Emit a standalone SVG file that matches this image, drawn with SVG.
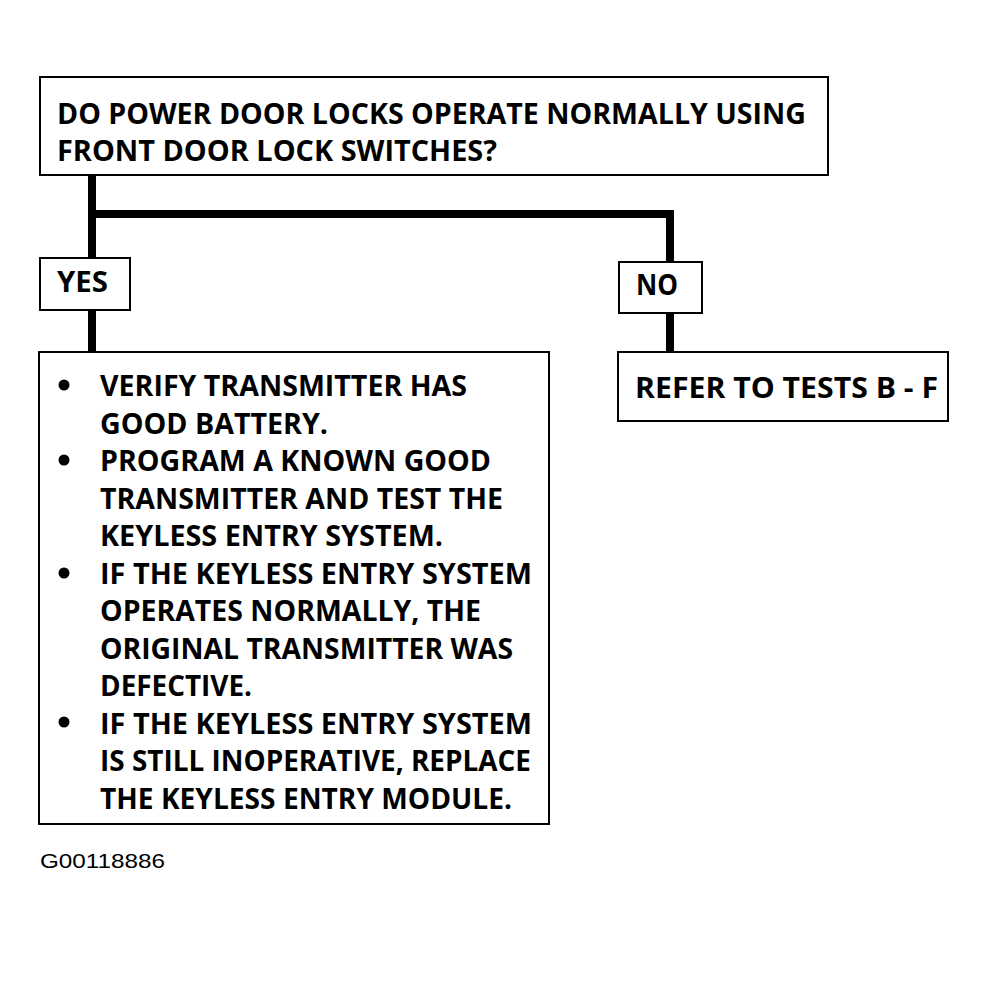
<svg xmlns="http://www.w3.org/2000/svg" width="988" height="989" viewBox="0 0 988 989">
<style>
.box{fill:#fff;stroke:#000;stroke-width:2}
.t{font-family:"Open Sans","Liberation Sans",sans-serif;font-weight:bold;font-size:28px;fill:#000}
.c{stroke:#000;stroke-width:8;fill:none;stroke-linecap:butt}
.id{font-family:"Liberation Sans",Arial,sans-serif;font-size:21px;fill:#000}
</style>
<rect width="988" height="989" fill="#fff"/>
<g id="connectors">
<path class="c" d="M92 175 V262"/>
<path class="c" d="M88 214 H674"/>
<path class="c" d="M670 210 V263"/>
<path class="c" d="M92 310 V353"/>
<path class="c" d="M670 313 V353"/>
</g>
<g id="question">
<rect class="box" x="40" y="77" width="788" height="98"/>
<text class="t" x="57" y="124" textLength="749" lengthAdjust="spacingAndGlyphs">DO POWER DOOR LOCKS OPERATE NORMALLY USING</text>
<text class="t" x="57" y="161" textLength="440" lengthAdjust="spacingAndGlyphs">FRONT DOOR LOCK SWITCHES?</text>
</g>
<g id="yes">
<rect class="box" x="40" y="258" width="90" height="52"/>
<text class="t" x="57" y="292" textLength="51" lengthAdjust="spacingAndGlyphs">YES</text>
</g>
<g id="no">
<rect class="box" x="619" y="262" width="83" height="51"/>
<text class="t" x="636" y="295" textLength="42" lengthAdjust="spacingAndGlyphs">NO</text>
</g>
<g id="yes-actions">
<rect class="box" x="39" y="352" width="510" height="472"/>
<circle cx="64" cy="385" r="5.5"/>
<circle cx="64" cy="460" r="5.5"/>
<circle cx="64" cy="573" r="5.5"/>
<circle cx="64" cy="722" r="5.5"/>
<text class="t" x="100" y="396" textLength="367" lengthAdjust="spacingAndGlyphs">VERIFY TRANSMITTER HAS</text>
<text class="t" x="100" y="433.5" textLength="228" lengthAdjust="spacingAndGlyphs">GOOD BATTERY.</text>
<text class="t" x="100" y="471" textLength="391" lengthAdjust="spacingAndGlyphs">PROGRAM A KNOWN GOOD</text>
<text class="t" x="100" y="508.5" textLength="403" lengthAdjust="spacingAndGlyphs">TRANSMITTER AND TEST THE</text>
<text class="t" x="100" y="546" textLength="343" lengthAdjust="spacingAndGlyphs">KEYLESS ENTRY SYSTEM.</text>
<text class="t" x="100" y="583.5" textLength="432" lengthAdjust="spacingAndGlyphs">IF THE KEYLESS ENTRY SYSTEM</text>
<text class="t" x="100" y="621" textLength="381" lengthAdjust="spacingAndGlyphs">OPERATES NORMALLY, THE</text>
<text class="t" x="100" y="658.5" textLength="413" lengthAdjust="spacingAndGlyphs">ORIGINAL TRANSMITTER WAS</text>
<text class="t" x="100" y="696" textLength="152" lengthAdjust="spacingAndGlyphs">DEFECTIVE.</text>
<text class="t" x="100" y="733.5" textLength="432" lengthAdjust="spacingAndGlyphs">IF THE KEYLESS ENTRY SYSTEM</text>
<text class="t" x="100" y="771" textLength="431" lengthAdjust="spacingAndGlyphs">IS STILL INOPERATIVE, REPLACE</text>
<text class="t" x="100" y="808.5" textLength="412" lengthAdjust="spacingAndGlyphs">THE KEYLESS ENTRY MODULE.</text>
</g>
<g id="refer">
<rect class="box" x="618" y="352" width="330" height="69"/>
<text class="t" x="635" y="398" textLength="303" lengthAdjust="spacingAndGlyphs">REFER TO TESTS B - F</text>
</g>
<text class="id" x="40" y="868" textLength="125" lengthAdjust="spacingAndGlyphs">G00118886</text>
</svg>
